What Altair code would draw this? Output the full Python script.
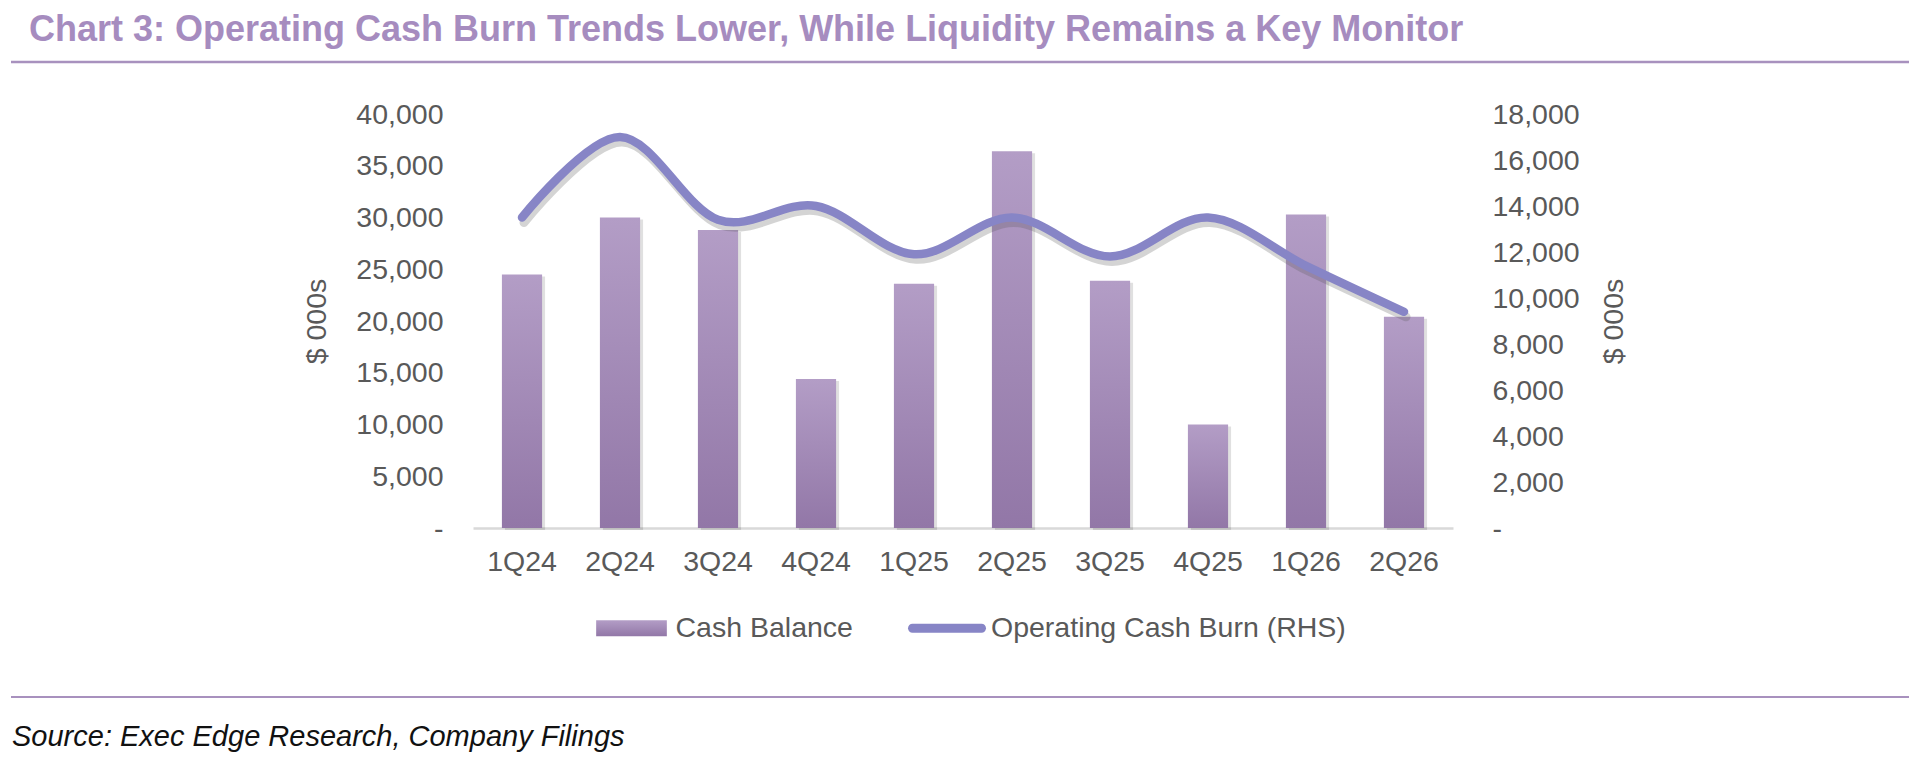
import altair as alt
import pandas as pd

quarters = ["1Q24", "2Q24", "3Q24", "4Q24", "1Q25", "2Q25", "3Q25", "4Q25", "1Q26", "2Q26"]
cash_balance = [24500, 30000, 28800, 14400, 23600, 36400, 23900, 10000, 30300, 20400]
operating_cash_burn = [13500, 17000, 13400, 14000, 11900, 13500, 11800, 13500, 11400, 9400]
series_names = ["Cash Balance", "Operating Cash Burn (RHS)"]
left_ticks = [0, 5000, 10000, 15000, 20000, 25000, 30000, 35000, 40000]
right_ticks = [0, 2000, 4000, 6000, 8000, 10000, 12000, 14000, 16000, 18000]

title_text = "Chart 3: Operating Cash Burn Trends Lower, While Liquidity Remains a Key Monitor"
source_text = "Source: Exec Edge Research, Company Filings"

FONT = "Liberation Sans"
TITLE_PURPLE = "#A68CBF"
RULE_PURPLE = "#A891BE"
LINE_COLOR = "#8785C6"
TEXT_GRAY = "#595959"
AXIS_GRAY = "#D9D9D9"
BAR_TOP = "#B39DC6"
BAR_BOTTOM = "#9277A7"

# legend swatch shapes: a flat box for the bars, a rounded stroke for the line
BOX_SWATCH = "M-0.93,-0.21H0.93V0.21H-0.93Z"
LINE_SWATCH = "M-0.908,-0.118H0.908A0.118,0.118 0 0 1 0.908,0.118H-0.908A0.118,0.118 0 0 1 -0.908,-0.118Z"

bar_fill = alt.Gradient(
    gradient="linear",
    stops=[alt.GradientStop(color=BAR_TOP, offset=0), alt.GradientStop(color=BAR_BOTTOM, offset=1)],
    x1=0, x2=0, y1=0, y2=1,
)
bar_gradient_expr = (
    "{gradient: 'linear', x1: 0, y1: 0, x2: 0, y2: 1, "
    f"stops: [{{offset: 0, color: '{BAR_TOP}'}}, {{offset: 1, color: '{BAR_BOTTOM}'}}]}}"
)

df = pd.DataFrame({"quarter": quarters, "cash": cash_balance, "burn": operating_cash_burn})
legend_df = pd.DataFrame({"series": series_names})
notes = pd.DataFrame({"title": [title_text], "source": [source_text]})

zero_dash = "datum.value == 0 ? '-' : format(datum.value, ',')"

x_enc = alt.X(
    "quarter:N",
    sort=quarters,
    scale=alt.Scale(paddingInner=0.59, paddingOuter=0.295),
    axis=alt.Axis(
        title=None,
        labelAngle=0,
        labelFontSize=28.5,
        labelColor=TEXT_GRAY,
        labelPadding=19,
        ticks=False,
        tickSize=0,
        domainColor=AXIS_GRAY,
        domainWidth=2.5,
    ),
)

y_left = alt.Y(
    "cash:Q",
    scale=alt.Scale(domain=[0, 40000]),
    axis=alt.Axis(
        values=left_ticks,
        labelExpr=zero_dash,
        title="$ 000s",
        titleFontSize=28.5,
        titleFontWeight="normal",
        titleColor=TEXT_GRAY,
        titlePadding=24,
        labelFontSize=28.5,
        labelColor=TEXT_GRAY,
        labelPadding=30,
        grid=False,
        domain=False,
        ticks=False,
        tickSize=0,
    ),
)

y_right = alt.Y(
    "burn:Q",
    scale=alt.Scale(domain=[0, 18000]),
    axis=alt.Axis(
        orient="right",
        values=right_ticks,
        labelExpr=zero_dash,
        title="$ 000s",
        titleAngle=270,
        titleBaseline="top",
        titleFontSize=28.5,
        titleFontWeight="normal",
        titleColor=TEXT_GRAY,
        titlePadding=20,
        labelFontSize=28.5,
        labelColor=TEXT_GRAY,
        labelPadding=39,
        grid=False,
        domain=False,
        ticks=False,
        tickSize=0,
    ),
)

legend = alt.Legend(
    orient="none",
    legendX=120.5,
    legendY=476,
    direction="horizontal",
    title=None,
    symbolSize=5776,
    symbolStrokeWidth=0,
    symbolOpacity=1,
    labelFontSize=28.5,
    labelColor=TEXT_GRAY,
    labelOffset=6,
    labelLimit=0,
    columnPadding=54.5,
    padding=0,
)

base = alt.Chart(df)

bar_shadow = base.mark_bar(color="black", opacity=0.12, xOffset=3, yOffset=2).encode(x=x_enc, y=y_left)
bars = base.mark_bar(fill=bar_fill).encode(x=x_enc, y=y_left)

line_shadow = base.mark_line(
    color="#555555", opacity=0.25, strokeWidth=9, strokeCap="round",
    interpolate="cardinal", xOffset=2, yOffset=5,
).encode(x=x_enc, y=y_right)
line = base.mark_line(
    color=LINE_COLOR, strokeWidth=8.5, strokeCap="round", interpolate="cardinal"
).encode(x=x_enc, y=y_right)

# legend only: no rows pass the filter, the scales carry the two entries
legend_layer = (
    alt.Chart(legend_df)
    .transform_filter("false")
    .mark_point(filled=True, opacity=1)
    .encode(
        color=alt.Color(
            "series:N",
            scale=alt.Scale(domain=series_names, range=[alt.ExprRef(expr=bar_gradient_expr), LINE_COLOR]),
            legend=legend,
        ),
        shape=alt.Shape(
            "series:N",
            scale=alt.Scale(domain=series_names, range=[BOX_SWATCH, LINE_SWATCH]),
            legend=legend,
        ),
    )
)

title_mark = alt.Chart(notes).mark_text(
    align="left", baseline="alphabetic", fontSize=36, fontWeight="bold", color=TITLE_PURPLE
).encode(text="title:N", x=alt.value(-444), y=alt.value(-73))

source_mark = alt.Chart(notes).mark_text(
    align="left", baseline="middle", fontSize=29, fontStyle="italic", color="#111111"
).encode(text="source:N", x=alt.value(-461), y=alt.value(623))

top_rule = alt.Chart(notes).mark_rule(color=RULE_PURPLE, strokeWidth=2.5).encode(
    x=alt.value(-462), x2=alt.value(1436), y=alt.value(-52)
)
bottom_rule = alt.Chart(notes).mark_rule(color=RULE_PURPLE, strokeWidth=2).encode(
    x=alt.value(-462), x2=alt.value(1436), y=alt.value(583)
)

left_part = alt.layer(bar_shadow, bars)
right_part = alt.layer(line_shadow, line)

chart = (
    alt.layer(left_part, right_part, legend_layer, title_mark, source_mark, top_rule, bottom_rule)
    .resolve_scale(y="independent")
    .properties(
        width=980,
        height=414,
        padding={"left": 465, "top": 106, "right": 460, "bottom": 225},
        autosize=alt.AutoSizeParams(type="none"),
    )
    .configure(font=FONT)
    .configure_view(stroke=None)
)

chart.save("out.html", embed_options={"renderer": "svg", "actions": False})
